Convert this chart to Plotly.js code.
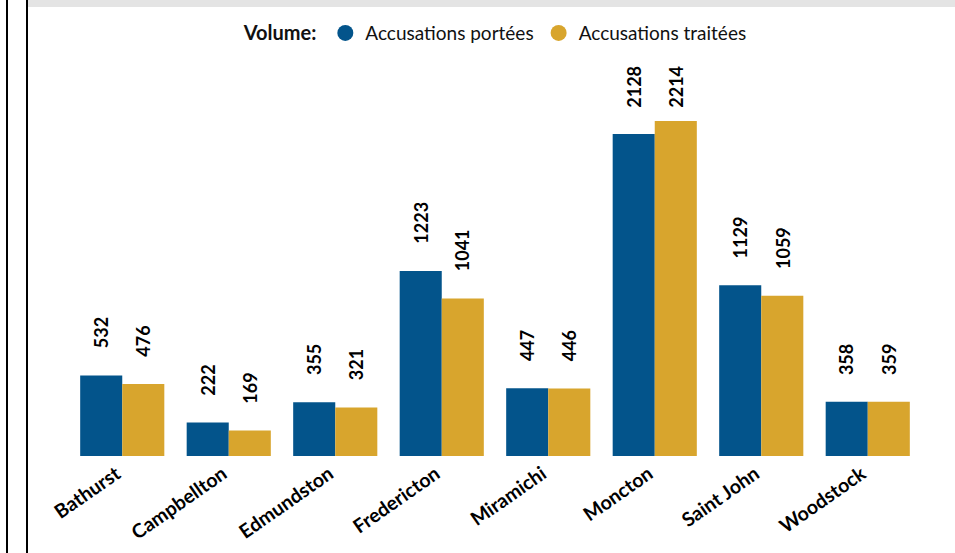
<!DOCTYPE html>
<html>
<head>
<meta charset="utf-8">
<script src="https://cdn.plot.ly/plotly-3.0.1.min.js"></script>
<style>
  html, body { margin: 0; padding: 0; background: #ffffff; }
  #chart { width: 955px; height: 553px; position: absolute; left: 0; top: 0; }
  .frame { position: absolute; z-index: 10; pointer-events: none; }
</style>
</head>
<body>
<div id="chart"></div>
<div class="frame" style="left:6px;top:0;width:2px;height:553px;background:#000;"></div>
<div class="frame" style="left:26px;top:0;width:2px;height:553px;background:#000;"></div>
<div class="frame" style="left:28px;top:0;right:0;height:7px;background:#e4e4e4;"></div>
<script>
const categories = ["Bathurst", "Campbellton", "Edmundston", "Fredericton", "Miramichi", "Moncton", "Saint John", "Woodstock"];
const seriesNames = ["Accusations portées", "Accusations traitées"];
const chargesLaid = [532, 222, 355, 1223, 447, 2128, 1129, 358];
const chargesDisposed = [476, 169, 321, 1041, 446, 2214, 1059, 359];
const legendTitle = "Volume:";

const colors = ["#03548B", "#D8A52D"];
const fontFam = "Lato, 'Open Sans', sans-serif";
const yMax = 2617;
const marginT = 60, marginB = 97, marginL = 69, marginR = 34;
const plotH = 553 - marginT - marginB;
const k = plotH / yMax;

const seriesValues = [chargesLaid, chargesDisposed];

const traces = [];
seriesValues.forEach((vals, i) => {
  traces.push({
    type: "bar", x: categories, y: vals, name: seriesNames[i],
    marker: { color: colors[i] }, showlegend: false, hoverinfo: "x+y"
  });
});
seriesValues.forEach((vals, i) => {
  traces.push({
    type: "scatter", mode: "markers", x: [null], y: [null], name: seriesNames[i],
    marker: { color: colors[i], size: 18, symbol: "circle" }, showlegend: true
  });
});

const annotations = [];
seriesValues.forEach((vals, i) => {
  vals.forEach((v, j) => {
    const lift = Math.min(25, 346 - v * k);
    annotations.push({
      x: categories[j], y: v, xref: "x", yref: "y",
      text: String(v), showarrow: false, textangle: -90,
      yanchor: "bottom", xanchor: "center",
      xshift: i === 0 ? -21 : 21, yshift: lift,
      font: { family: fontFam, size: 18, color: "#000", weight: "bold" }
    });
  });
});

const layout = {
  width: 955, height: 553,
  margin: { l: marginL, r: marginR, t: marginT, b: marginB },
  paper_bgcolor: "#ffffff", plot_bgcolor: "#ffffff",
  barmode: "group", bargap: 0.21, bargroupgap: 0,
  showlegend: true,
  legend: {
    orientation: "h", x: 0.502, xanchor: "center", y: 1.068, yanchor: "middle",
    title: { text: "<b>" + legendTitle + "</b>", font: { family: fontFam, size: 20, color: "#111" } },
    font: { family: fontFam, size: 19, color: "#111" },
    itemwidth: 30, tracegroupgap: 0
  },
  xaxis: {
    type: "category", tickangle: -35, showgrid: false, zeroline: false, showline: false,
    ticks: "", ticklabelshift: -6, ticklabelstandoff: 2,
    tickfont: { family: fontFam, size: 19.5, color: "#000", weight: "bold" }
  },
  yaxis: {
    range: [0, yMax], visible: false, showgrid: false, zeroline: false
  },
  annotations: annotations
};

Plotly.newPlot("chart", traces, layout, { displayModeBar: false, staticPlot: true });
</script>
</body>
</html>
